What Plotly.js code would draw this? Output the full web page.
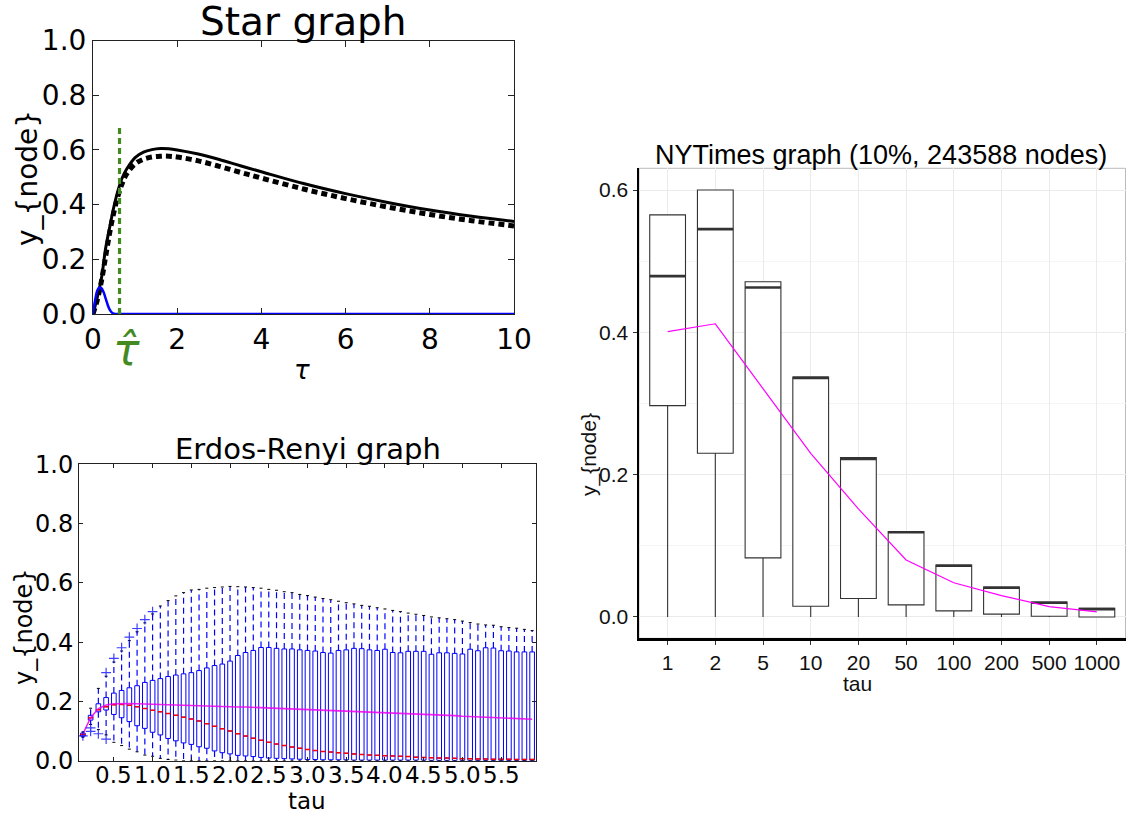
<!DOCTYPE html>
<html>
<head>
<meta charset="utf-8">
<script src="https://cdn.plot.ly/plotly-3.0.1.min.js"></script>
<style>html,body{margin:0;padding:0;background:#fff;}#fig{width:1126px;height:815px;}</style>
</head>
<body>
<div id="fig"></div>
<script>
// ---------- Star graph ----------
const starTau = [0, 0.1, 0.2, 0.3, 0.4, 0.5, 0.6, 0.7, 0.8, 1.0, 1.2, 1.4, 1.6, 1.8, 2.0, 2.5, 3.0, 3.5, 4.0, 5.0, 6.0, 7.0, 8.0, 9.0, 10.0];
const starSolid = [0, 0.06, 0.13, 0.24, 0.32, 0.395, 0.455, 0.50, 0.53, 0.572, 0.592, 0.601, 0.605, 0.604, 0.600, 0.585, 0.565, 0.542, 0.520, 0.477, 0.440, 0.408, 0.380, 0.357, 0.338];
const starDotted = [0, 0.05, 0.12, 0.21, 0.30, 0.375, 0.435, 0.48, 0.512, 0.549, 0.566, 0.574, 0.577, 0.577, 0.574, 0.560, 0.540, 0.518, 0.497, 0.457, 0.422, 0.391, 0.364, 0.341, 0.322];
const starBlueTau = [0, 0.05, 0.1, 0.15, 0.2, 0.25, 0.3, 0.35, 0.4, 0.45, 0.5, 0.6, 10];
const starBlue = [0, 0.05, 0.085, 0.097, 0.094, 0.08, 0.057, 0.033, 0.015, 0.005, 0.001, 0, 0];
const tauHat = [0.63, 0.63];
const tauHatLine = [0, 0.68];

// ---------- Erdos-Renyi graph ----------
const erTau = [0.1,0.2,0.3,0.4,0.5,0.6,0.7,0.8,0.9,1.0,1.1,1.2,1.3,1.4,1.5,1.6,1.7,1.8,1.9,2.0,
  2.1,2.2,2.3,2.4,2.5,2.6,2.7,2.8,2.9,3.0,3.1,3.2,3.3,3.4,3.5,3.6,3.7,3.8,3.9,4.0,
  4.1,4.2,4.3,4.4,4.5,4.6,4.7,4.8,4.9,5.0,5.1,5.2,5.3,5.4,5.5,5.6,5.7,5.8,5.9];
const erQ3 = [0.093,0.153,0.192,0.213,0.228,0.237,0.246,0.253,0.264,0.271,0.277,0.284,0.289,0.293,0.297,0.304,0.313,0.321,0.326,0.336,
  0.355,0.365,0.372,0.382,0.382,0.379,0.377,0.377,0.374,0.372,0.370,0.365,0.363,0.372,0.374,0.379,0.378,0.374,0.372,0.376,
  0.365,0.364,0.369,0.369,0.369,0.359,0.364,0.364,0.362,0.360,0.376,0.371,0.381,0.380,0.371,0.370,0.367,0.367,0.367];
const erMedian = [0.088,0.145,0.172,0.182,0.189,0.190,0.187,0.182,0.176,0.170,0.165,0.159,0.153,0.147,0.141,0.134,0.125,0.116,0.108,0.100,
  0.091,0.083,0.076,0.069,0.062,0.056,0.051,0.046,0.042,0.038,0.034,0.031,0.029,0.027,0.025,0.023,0.021,0.019,0.018,0.017,
  0.016,0.015,0.014,0.012,0.011,0.010,0.009,0.009,0.008,0.007,0.007,0.006,0.006,0.005,0.005,0.005,0.004,0.004,0.004];
const erQ1 = [0.083,0.137,0.165,0.171,0.156,0.145,0.132,0.118,0.109,0.096,0.087,0.075,0.067,0.060,0.055,0.047,0.042,0.033,0.027,0.023,
  0.018,0.016,0.014,0.011,0.009,0.008,0.007,0.006,0.005,0.004,0.004,0.003,0.003,0.003,0.003,0.002,0.002,0.002,0.002,0.002,
  0.002,0.002,0.002,0.002,0.002,0.001,0.001,0.001,0.001,0.001,0.001,0.001,0.001,0.001,0.001,0.001,0.001,0.001,0.001];
const erWhiskerHigh = [0.097,0.177,0.244,0.285,0.333,0.370,0.405,0.435,0.465,0.495,0.522,0.540,0.556,0.567,0.576,0.578,0.582,0.584,0.586,0.588,
  0.587,0.586,0.584,0.582,0.578,0.575,0.570,0.567,0.561,0.557,0.552,0.547,0.543,0.538,0.533,0.529,0.524,0.521,0.516,0.512,
  0.507,0.503,0.498,0.494,0.490,0.485,0.482,0.479,0.476,0.471,0.466,0.461,0.458,0.457,0.452,0.449,0.447,0.443,0.439];
const erWhiskerLow = [0.079,0.122,0.105,0.087,0.062,0.051,0.039,0.030,0.019,0.015,0.008,0.004,0.002,0,0,0,0,0,0,0,
  0,0,0,0,0,0,0,0,0,0,0,0,0,0,0,0,0,0,0,0,
  0,0,0,0,0,0,0,0,0,0,0,0,0,0,0,0,0,0,0];
const erMean = [0.090,0.145,0.176,0.188,0.192,0.193,0.193,0.192,0.191,0.190,0.189,0.188,0.187,0.186,0.185,0.184,0.184,0.183,0.183,0.182,
  0.181,0.181,0.180,0.179,0.178,0.177,0.176,0.175,0.174,0.173,0.172,0.171,0.170,0.169,0.168,0.166,0.165,0.164,0.163,0.162,
  0.161,0.160,0.159,0.157,0.156,0.155,0.154,0.153,0.152,0.150,0.149,0.148,0.147,0.146,0.144,0.143,0.142,0.141,0.140];
const erOutlierTau = [0.4, 0.5, 0.6, 0.7, 0.8, 0.9, 1.0, 0.1, 0.2, 0.2, 0.3, 0.4];
const erOutlierY   = [0.297, 0.345, 0.381, 0.417, 0.446, 0.476, 0.503, 0.084, 0.111, 0.099, 0.091, 0.073];
const erTickVals = [0.5, 1.0, 1.5, 2.0, 2.5, 3.0, 3.5, 4.0, 4.5, 5.0, 5.5];
const erTickText = ["0.5", "1.0", "1.5", "2.0", "2.5", "3.0", "3.5", "4.0", "4.5", "5.0", "5.5"];

// ---------- NYTimes graph ----------
const nyTau = ["1", "2", "5", "10", "20", "50", "100", "200", "500", "1000"];
const nyQ3 = [0.565, 0.600, 0.471, 0.337, 0.224, 0.120, 0.073, 0.042, 0.021, 0.012];
const nyMedian = [0.479, 0.545, 0.463, 0.336, 0.222, 0.119, 0.072, 0.041, 0.020, 0.011];
const nyQ1 = [0.297, 0.230, 0.083, 0.015, 0.026, 0.017, 0.0085, 0.004, 0.001, 0.0];
const nyLow = [0, 0, 0, 0, 0, 0, 0, 0, 0, 0];
const nyMean = [0.401, 0.412, 0.321, 0.230, 0.152, 0.080, 0.048, 0.030, 0.0145, 0.007];

// ---------- page geometry (pixels) ----------
const W = 1126, H = 815;
const fx = p => p / W;
const fy = p => 1 - p / H;

const MPL = "DejaVu Sans";
const GG = "Liberation Sans, Arial, sans-serif";

// line-ew markers are drawn 1.4x their nominal size
const EW = 1 / 1.4;

// whisker segments for the Erdos-Renyi boxes
const whiskX = [], whiskY = [];
erTau.forEach((t, i) => {
  whiskX.push(t, t, null, t, t, null);
  whiskY.push(erQ3[i], erWhiskerHigh[i], null, erQ1[i], erWhiskerLow[i], null);
});
const capX = erTau.concat(erTau);
const capY = erWhiskerHigh.concat(erWhiskerLow);

const traces = [
  // Star graph
  {x: starTau, y: starDotted, xaxis: "x", yaxis: "y", mode: "lines", line: {color: "black", width: 5, dash: "6px,4px", shape: "spline"}},
  {x: starTau, y: starSolid, xaxis: "x", yaxis: "y", mode: "lines", line: {color: "black", width: 3, shape: "spline"}},
  {x: starBlueTau, y: starBlue, xaxis: "x", yaxis: "y", mode: "lines", line: {color: "blue", width: 2.5, shape: "spline"}},
  {x: tauHat, y: tauHatLine, xaxis: "x", yaxis: "y", mode: "lines", line: {color: "#438a22", width: 3.2, dash: "6px,4px"}},

  // Erdos-Renyi graph
  {x: whiskX, y: whiskY, xaxis: "x2", yaxis: "y2", mode: "lines", connectgaps: false,
   line: {color: "blue", width: 1.2, dash: "6px,4px"}},
  {type: "box", x: erTau, q1: erQ1, median: erMedian, q3: erQ3, lowerfence: erQ1, upperfence: erQ3,
   xaxis: "x2", yaxis: "y2", width: 0.06, whiskerwidth: 0, boxpoints: false,
   line: {color: "blue", width: 1}, fillcolor: "rgba(0,0,0,0)"},
  {x: erTau, y: erMedian, xaxis: "x2", yaxis: "y2", mode: "markers",
   marker: {symbol: "line-ew", size: 5 * EW, line: {color: "red", width: 1.5}}},
  {x: erTau, y: erMean, xaxis: "x2", yaxis: "y2", mode: "lines", opacity: 0.85,
   line: {color: "#f000f0", width: 1.6}},
  {x: capX, y: capY, xaxis: "x2", yaxis: "y2", mode: "markers",
   marker: {symbol: "line-ew", size: 3 * EW, line: {color: "black", width: 1}}},
  {x: erOutlierTau, y: erOutlierY, xaxis: "x2", yaxis: "y2", mode: "markers", opacity: 0.75,
   marker: {symbol: "cross-thin", size: 7, line: {color: "blue", width: 1.2}}},

  // NYTimes graph
  {type: "box", x: nyTau, q1: nyQ1, median: nyMedian, q3: nyQ3, lowerfence: nyLow, upperfence: nyQ3,
   xaxis: "x3", yaxis: "y3", width: 0.75, whiskerwidth: 0, boxpoints: false,
   line: {color: "#333333", width: 1.1}, fillcolor: "white"},
  {x: nyTau, y: nyMedian, xaxis: "x3", yaxis: "y3", mode: "markers",
   marker: {symbol: "line-ew", size: 35.8 * EW, line: {color: "#333333", width: 2.6}}},
  {x: nyTau, y: nyMean, xaxis: "x3", yaxis: "y3", mode: "lines", line: {color: "#ff00ff", width: 1.2}}
];

const mplAxis = {showgrid: false, zeroline: false, showline: true, mirror: "ticks", linecolor: "#222", linewidth: 1,
  ticks: "inside", tickcolor: "#222", ticklen: 6, color: "black"};

const ann = (text, x, y, size, opts) => Object.assign({
  text: text, xref: "paper", yref: "paper", x: fx(x), y: fy(y), xanchor: "center", yanchor: "middle",
  showarrow: false, font: {family: MPL, size: size, color: "black"}
}, opts || {});

// Erdos-Renyi tick labels sit tight under the frame, placed on the x2 scale
const erTickLabels = erTickVals.map((v, i) => ({
  text: erTickText[i], xref: "x2", yref: "paper", x: v, y: fy(775), xanchor: "center", yanchor: "middle",
  showarrow: false, borderpad: 0, font: {family: MPL, size: 23, color: "black"}
}));

const layout = {
  width: W, height: H, margin: {l: 0, r: 0, t: 0, b: 0}, showlegend: false,
  paper_bgcolor: "white", plot_bgcolor: "white",
  xaxis: Object.assign({}, mplAxis, {domain: [fx(93), fx(514)], range: [0, 10], dtick: 2, anchor: "y",
    tickangle: 0, tickfont: {family: MPL, size: 28}}),
  yaxis: Object.assign({}, mplAxis, {domain: [fy(314), fy(40.5)], range: [0, 1], dtick: 0.2, tickformat: ".1f", anchor: "x",
    tickfont: {family: MPL, size: 28}}),
  xaxis2: Object.assign({}, mplAxis, {domain: [fx(79), fx(536)], range: [0.05, 5.95], tickmode: "array",
    tickvals: erTickVals, ticktext: erTickText, anchor: "y2", ticklen: 4, showticklabels: false}),
  yaxis2: Object.assign({}, mplAxis, {domain: [fy(760.7), fy(464.3)], range: [0, 1], dtick: 0.2, tickformat: ".1f", anchor: "x2",
    ticklen: 4, tickfont: {family: MPL, size: 24}}),
  xaxis3: {domain: [fx(639), fx(1125.5)], type: "category", range: [-0.6, 9.6], anchor: "y3",
    showgrid: true, gridcolor: "#ebebeb", gridwidth: 1, zeroline: false, tickangle: 0,
    showline: true, linecolor: "black", linewidth: 2.5, mirror: false,
    ticks: "outside", ticklen: 4, tickcolor: "#333", tickfont: {family: GG, size: 21, color: "#111"}},
  yaxis3: {domain: [fy(638.3), fy(168.3)], range: [-0.03, 0.6305], tickvals: [0, 0.2, 0.4, 0.6], tickformat: ".1f", anchor: "x3",
    showgrid: true, gridcolor: "#ebebeb", gridwidth: 1, zeroline: false,
    minor: {tickvals: [0.1, 0.3, 0.5], showgrid: true, gridcolor: "#f3f3f3", gridwidth: 0.8, ticks: ""},
    showline: true, linecolor: "black", linewidth: 2.5, mirror: false,
    ticks: "outside", ticklen: 4, tickcolor: "#333", tickfont: {family: GG, size: 21, color: "#111"}},
  shapes: [
    {type: "rect", xref: "x3 domain", yref: "y3 domain", x0: 0, x1: 1, y0: 0, y1: 1,
     line: {color: "#bbbbbb", width: 1}, fillcolor: "rgba(0,0,0,0)", layer: "below"}
  ],
  annotations: [
    ann("Star graph", 303.5, 22, 39),
    ann("y_{node}", 28, 178, 28, {textangle: -90}),
    ann("<i>τ</i>", 302, 370, 26),
    ann("<i>τ̂</i>", 126, 350, 44, {font: {family: MPL, size: 44, color: "#438a22"}}),
    ann("Erdos-Renyi graph", 307.5, 449, 29),
    ann("y_{node}", 24, 627, 24, {textangle: -90}),
    ann("tau", 307, 801, 23, {borderpad: 0}),
    ann("NYTimes graph (10%, 243588 nodes)", 881, 155, 27, {font: {family: GG, size: 27, color: "black"}}),
    ann("y_{node}", 589, 455, 21, {textangle: -90, font: {family: GG, size: 21, color: "#111"}}),
    ann("tau", 857, 683, 21, {font: {family: GG, size: 21, color: "#111"}})
  ].concat(erTickLabels)
};

Plotly.newPlot("fig", traces, layout, {staticPlot: true, displayModeBar: false});
</script>
</body>
</html>
